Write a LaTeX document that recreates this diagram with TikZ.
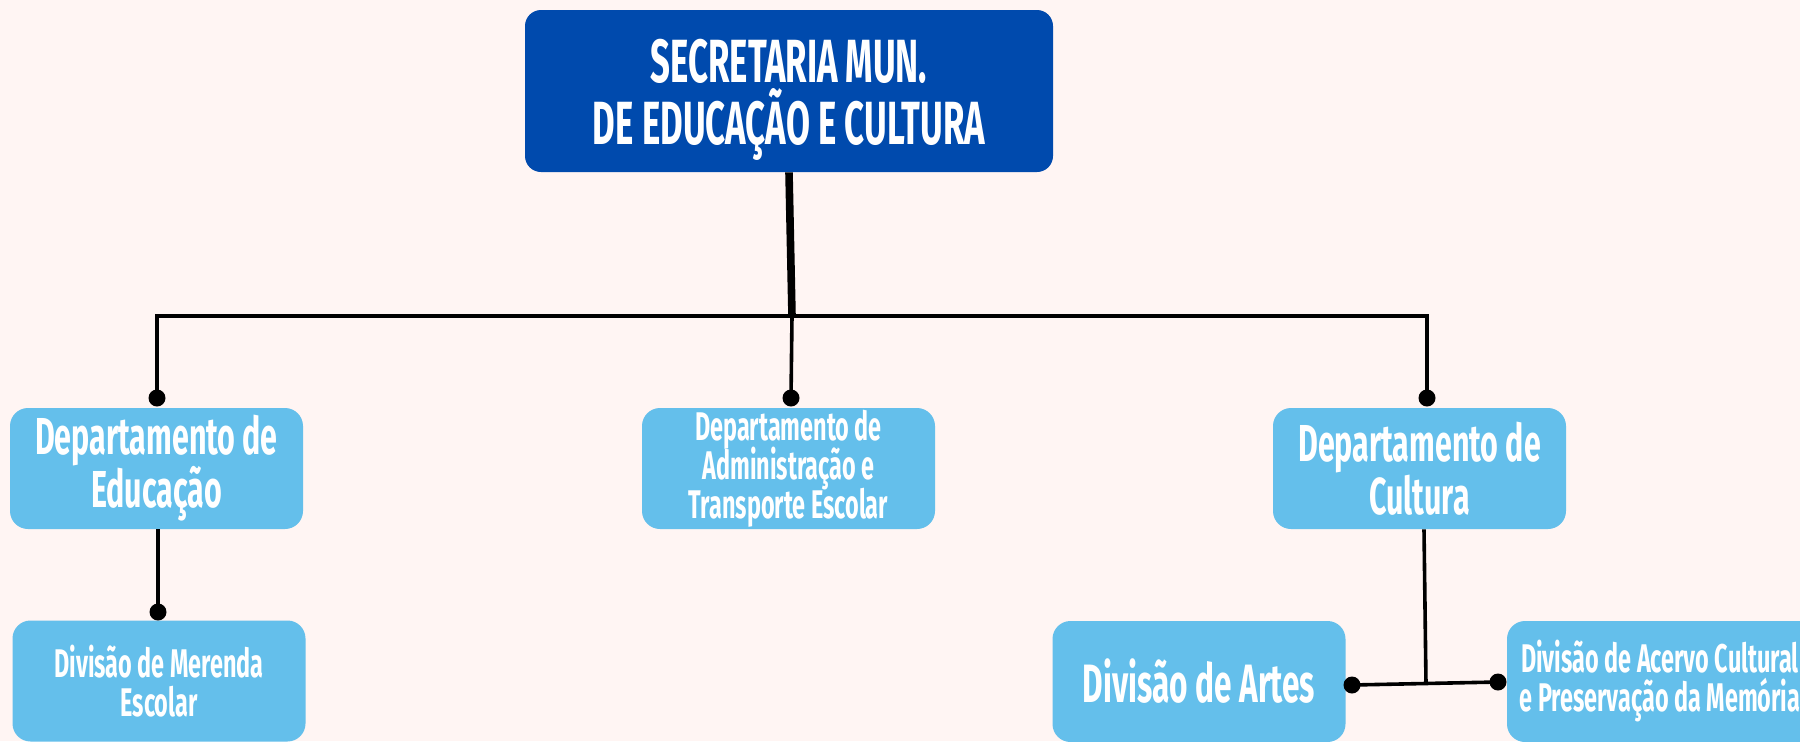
\documentclass[tikz,border=0pt]{standalone}
\usepackage{fontspec}
\setmainfont{Fira Sans}[FakeStretch=0.585]
\newfontfamily\topfont{Fira Sans}[FakeStretch=0.57]
\definecolor{bgc}{HTML}{FFF5F3}
\definecolor{darkbox}{HTML}{004AAD}
\definecolor{lightbox}{HTML}{64BFEB}
\newcommand\tightlines{\lineskiplimit=-30pt\relax}
\begin{document}
\begin{tikzpicture}[x=0.5pt,y=-0.5pt,
  boxbase/.style={rectangle, rounded corners=9pt, text=white, align=center, inner sep=0pt, font=\bfseries},
  topbox/.style={boxbase, fill=darkbox, rounded corners=8pt, minimum width=264pt, minimum height=81pt},
  bigtext/.style={font=\bfseries\fontsize{26}{26.5}\selectfont\tightlines},
  smalltext/.style={font=\bfseries\fontsize{20}{19.5}\selectfont\tightlines},
  deptbig/.style={boxbase, fill=lightbox, minimum width=146.5pt, minimum height=60.5pt, bigtext},
  deptsmall/.style={boxbase, fill=lightbox, minimum width=146.5pt, minimum height=60.5pt, smalltext},
  dot/.style={circle, fill=black, inner sep=0pt, minimum size=8.5pt},
  conn/.style={draw=black, line width=1.8pt},
  thick conn/.style={draw=black, line width=3.8pt}
]
\useasboundingbox (0,0) rectangle (1800,741);
\fill[bgc] (0,0) rectangle (1800,741);
\clip (0,0) rectangle (1800,741);

% boxes
\node[topbox] (top) at (789,91) {};
\node[text=white, align=center, inner sep=0pt, font=\topfont\bfseries\fontsize{30.5}{31}\selectfont\tightlines] (topt) at (789,100) {SECRETARIA MUN.\\DE EDUCAÇÃO E CULTURA};
\node[deptbig] (edu) at (156.5,468.5) {Departamento de\\Educação};
\node[deptsmall] (adm) at (788.5,468.5) {Departamento de\\Administração e\\Transporte Escolar};
\node[deptbig] (cul) at (1419.5,468.5) {Departamento de\\Cultura};
\node[deptsmall] (mer) at (159,681) {Divisão de Merenda\\Escolar};
\node[deptbig, font=\bfseries\fontsize{27}{26}\selectfont] (art) at (1199,681.5) {Divisão de Artes};
\node[boxbase, fill=lightbox, minimum width=160pt, minimum height=60.5pt] (ace) at (1667,681.5) {};
\node[text=white, align=center, inner sep=0pt, smalltext] (acet) at (1660,681.5) {Divisão de Acervo Cultural\\e Preservação da Memória};

% dots
\node[dot] (dedu) at (157,398) {};
\node[dot] (dadm) at (791,398) {};
\node[dot] (dcul) at (1427,398) {};
\node[dot] (dmer) at (158,612) {};
\node[dot] (dart) at (1352,685) {};
\node[dot] (dace) at (1498,682) {};
\coordinate (j) at (792,316);
\coordinate (jc) at (1426,684);

% connectors
\draw[thick conn] (top.south) -- (j);
\draw[conn] (dedu.center) |- (j) -| (dcul.center);
\draw[conn] (j) -- (dadm.center);
\draw[conn] (edu.south -| dmer) -- (dmer.center);
\draw[conn] (cul.south) ++(4.5,0) -- (jc);
\draw[conn] (dart.center) -- (dace.center);
\end{tikzpicture}
\end{document}
